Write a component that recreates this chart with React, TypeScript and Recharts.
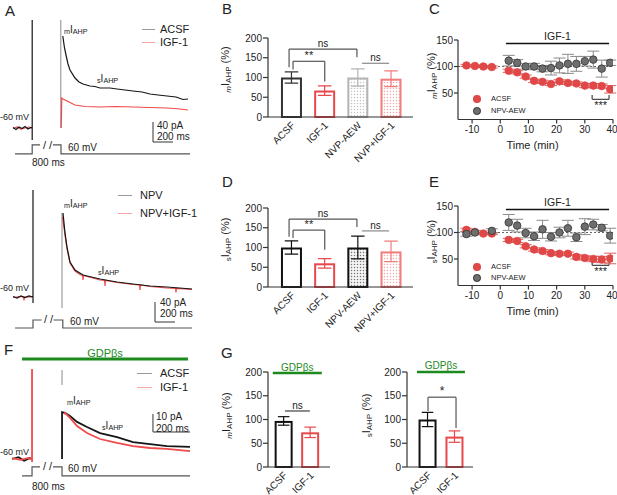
import React from 'react';
import {
  BarChart, Bar, ScatterChart, Scatter, LineChart, Line, XAxis, YAxis,
  ErrorBar, ReferenceLine
} from 'recharts';

const FONT = 'Arial, "Liberation Sans", Helvetica, sans-serif';
const RED = '#e8474c';
const TRACE_RED = '#f04a4a';
const GREEN = '#1d8a1d';

// ---- bar panels (B, D, G) ----
const bCats = ['ACSF', 'IGF-1', 'NVP-AEW', 'NVP+IGF-1'];
const dCats = ['ACSF', 'IGF-1', 'NPV-AEW', 'NPV+IGF-1'];
const gCats = ['ACSF', 'IGF-1'];
const bMean = [100, 67, 100, 97];
const bSem = [14, 12, 22, 20];
const dMean = [100, 60, 100, 90];
const dSem = [17, 12, 29, 26];
const gmMean = [97, 73];
const gmSem = [9, 11];
const gsMean = [100, 64];
const gsSem = [15, 12];

// ---- time course panels (C, E) ----
const tPre = [-12, -9, -6, -3];
const tPost = [3, 6, 9, 12, 15, 18, 21, 24, 27, 30, 33, 36, 39];
const cAcsfMean = [102, 101, 100, 99, 92, 89, 81, 73, 71, 67, 72, 69, 68, 64, 64, 63, 57];
const cAcsfSem = [2, 2, 2, 2, 3, 3, 3, 3, 3, 3, 3, 3, 3, 4, 4, 4, 7];
const cNvpMean = [111, 107, 100, 100, 96, 97, 102, 105, 105, 110, 113, 96, 107];
const cNvpSem = [10, 6, 5, 6, 6, 13, 14, 18, 14, 9, 16, 16, 5];
const eAcsfMean = [105, 101, 98, 98, 86, 84, 74, 68, 65, 61, 60, 60, 54, 52, 50, 49, 51];
const eAcsfSem = [3, 2, 2, 2, 3, 3, 3, 3, 3, 3, 3, 3, 4, 4, 5, 6, 10];
const eNvpTime = [-12, -9, -3, ...tPost];
const eNvpMean = [97, 100, 103, 119, 113, 99, 93, 106, 92, 100, 108, 91, 111, 115, 109, 94];
const eNvpSem = [4, 4, 4, 15, 12, 9, 8, 17, 8, 10, 15, 8, 15, 10, 6, 14];

// ---- current traces (t in ms, i in pA), voltage protocol (v in mV) ----
const acsfA = [
  { t: 130, i: 1 }, { t: 160, i: -3 }, { t: 190, i: 2 }, { t: 220, i: -1 }, { t: 250, i: 3 },
  { t: 280, i: -2 }, { t: 310, i: 1 }, { t: 322, i: 0 }, { t: 322, i: 216 }, { t: 322, i: -24 },
  { t: 330, i: null },
  { t: 628, i: 184 }, { t: 645, i: 160 }, { t: 660, i: 146 }, { t: 680, i: 128 }, { t: 700, i: 116 },
  { t: 750, i: 100 }, { t: 790, i: 92 }, { t: 830, i: 88 }, { t: 900, i: 84 }, { t: 950, i: 83 },
  { t: 1000, i: 80 }, { t: 1100, i: 80 }, { t: 1170, i: 78 }, { t: 1250, i: 76 }, { t: 1330, i: 74 },
  { t: 1420, i: 72 }, { t: 1500, i: 68 }, { t: 1580, i: 66 }, { t: 1670, i: 64 }, { t: 1760, i: 62 },
  { t: 1830, i: 57 }, { t: 1880, i: 58 },
];
const igfA = [
  { t: 130, i: -1 }, { t: 170, i: 2 }, { t: 210, i: -2 }, { t: 250, i: 0 }, { t: 290, i: 2 },
  { t: 320, i: 0 }, { t: 330, i: null },
  { t: 612, i: 0 }, { t: 618, i: 60 }, { t: 630, i: 58 }, { t: 670, i: 54 }, { t: 750, i: 46 },
  { t: 850, i: 43 }, { t: 1000, i: 42 }, { t: 1150, i: 43 }, { t: 1330, i: 42 }, { t: 1500, i: 41 },
  { t: 1670, i: 40 }, { t: 1800, i: 38 }, { t: 1880, i: 36 },
];
const artA = [{ t: 608, i: 216 }, { t: 608, i: 0 }];
const protoA = [
  { t: 150, v: -60 }, { t: 322, v: -60 }, { t: 322, v: 0 }, { t: 400, v: 0 }, { t: 405, v: null },
  { t: 530, v: 0 }, { t: 610, v: 0 }, { t: 610, v: -60 }, { t: 1900, v: -60 },
];
const scaleA = [{ t: 1530, i: 12 }, { t: 1530, i: -28 }, { t: 1730, i: -28 }];

const npvA2 = [
  { t: 130, i: 1 }, { t: 170, i: -2 }, { t: 210, i: 2 }, { t: 250, i: -1 }, { t: 290, i: 2 },
  { t: 330, i: 0 }, { t: 330, i: 214 }, { t: 330, i: -12 }, { t: 335, i: null },
  { t: 630, i: 168 }, { t: 650, i: 128 }, { t: 670, i: 100 }, { t: 700, i: 70 }, { t: 750, i: 54 },
  { t: 830, i: 44 }, { t: 1000, i: 36 }, { t: 1170, i: 30 }, { t: 1330, i: 26 }, { t: 1500, i: 22 },
  { t: 1670, i: 20 }, { t: 1920, i: 16 },
];
const npvIgfA2 = [
  { t: 130, i: -1 }, { t: 200, i: 1 }, { t: 236, i: 0 }, { t: 240, i: -7 }, { t: 244, i: 0 },
  { t: 320, i: 0 }, { t: 335, i: null },
  { t: 625, i: 160 }, { t: 650, i: 124 }, { t: 670, i: 96 }, { t: 700, i: 68 }, { t: 750, i: 52 },
  { t: 800, i: 45 }, { t: 826, i: 43 }, { t: 830, i: 34 }, { t: 834, i: 43 }, { t: 1000, i: 34 },
  { t: 1046, i: 33 }, { t: 1050, i: 22 }, { t: 1054, i: 33 }, { t: 1170, i: 29 }, { t: 1330, i: 25 },
  { t: 1396, i: 24 }, { t: 1400, i: 14 }, { t: 1404, i: 24 }, { t: 1500, i: 21 }, { t: 1670, i: 18 },
  { t: 1756, i: 17 }, { t: 1760, i: 9 }, { t: 1764, i: 17 }, { t: 1920, i: 15 },
];
const artA2 = [{ t: 620, i: 168 }, { t: 620, i: -22 }];
const protoA2 = [
  { t: 150, v: -60 }, { t: 330, v: -60 }, { t: 330, v: 0 }, { t: 415, v: 0 }, { t: 420, v: null },
  { t: 535, v: 0 }, { t: 628, v: 0 }, { t: 628, v: -60 }, { t: 1920, v: -60 },
];
const scaleA2 = [{ t: 1550, i: -10 }, { t: 1550, i: -50 }, { t: 1750, i: -50 }];

const acsfF = [
  { t: 65, i: 0 }, { t: 100, i: 1 }, { t: 130, i: -1 }, { t: 160, i: 0.5 }, { t: 172, i: 0 },
  { t: 180, i: null },
  { t: 335, i: 0 }, { t: 335, i: 26 }, { t: 351, i: 25.6 }, { t: 378, i: 23.9 }, { t: 416, i: 20.6 },
  { t: 470, i: 17.8 }, { t: 540, i: 14.4 }, { t: 632, i: 12.2 }, { t: 718, i: 9.4 }, { t: 810, i: 8.3 },
  { t: 902, i: 7.2 }, { t: 1026, i: 6.7 },
];
const igfF = [
  { t: 65, i: 0.5 }, { t: 110, i: -0.5 }, { t: 150, i: 0.5 }, { t: 173, i: 0 }, { t: 173, i: 50 },
  { t: 173, i: -1.7 }, { t: 180, i: null },
  { t: 345, i: 25 }, { t: 351, i: 25.6 }, { t: 378, i: 22.8 }, { t: 416, i: 18.3 }, { t: 470, i: 14.4 },
  { t: 540, i: 11.1 }, { t: 632, i: 8.9 }, { t: 718, i: 7.2 }, { t: 810, i: 6.1 }, { t: 902, i: 5.6 },
  { t: 1026, i: 4.4 },
];
const artF = [{ t: 335, i: 49.4 }, { t: 335, i: 41.1 }];
const protoF = [
  { t: 119, v: -60 }, { t: 173, v: -60 }, { t: 173, v: 0 }, { t: 216, v: 0 }, { t: 220, v: null },
  { t: 286, v: 0 }, { t: 335, v: 0 }, { t: 335, v: -60 }, { t: 1026, v: -60 },
];
const scaleF = [{ t: 826, i: 25 }, { t: 826, i: 15 }, { t: 1026, i: 15 }];

// significance brackets: x in category units, y in %
const bBrackets = [
  { x1: -0.075, x2: 1.97, y: 172, l1: 126, l2: 151, text: 'ns' },
  { x1: 0.045, x2: 1.0, y: 141, l1: 120, l2: 90, text: '**', size: 11 },
  { x1: 2.12, x2: 2.94, y: 136, text: 'ns', color: '#8a8a8a' },
];
const dBrackets = [
  { x1: -0.075, x2: 1.97, y: 172, l1: 127, l2: 152, text: 'ns' },
  { x1: 0.045, x2: 1.0, y: 144, l1: 124, l2: 94, text: '**', size: 11 },
  { x1: 2.12, x2: 2.94, y: 142, text: 'ns', color: '#8a8a8a' },
];
const gmBrackets = [{ x1: 0.04, x2: 0.98, y: 118, text: 'ns', color: '#8a8a8a', w: 2 }];
const gsBrackets = [{ x1: 0, x2: 1.04, y: 147, l1: 118, l2: 82, text: '*', size: 12 }];

const AX = { stroke: '#333', strokeWidth: 1.2 };
const TICK = { fill: '#222', fontSize: 10, fontFamily: FONT };

const bStyles = [
  { stroke: '#333', fill: '#fff' },
  { stroke: RED, fill: '#fff' },
  { stroke: '#b4b4b4', fill: 'url(#dotGrayB)' },
  { stroke: '#f07c7c', fill: 'url(#dotRedB)' },
];
const dStyles = [
  { stroke: '#111', fill: '#fff' },
  { stroke: RED, fill: '#fff' },
  { stroke: '#111', fill: 'url(#dotDarkD)' },
  { stroke: '#f07c7c', fill: 'url(#dotRedD)' },
];
const gStyles = [
  { stroke: '#111', fill: '#fff' },
  { stroke: RED, fill: '#fff' },
];

const mkBars = (mean: number[], sem: number[]) => mean.map((value, pos) => ({ pos, value, err: sem[pos] }));
const mkPts = (ts: number[], mean: number[], sem: number[]) => ts.map((t, k) => ({ t, v: mean[k], err: sem[k] }));

const ErrBar = (props: any) => {
  const { x, y, width, height, index, payload, styles } = props;
  const st = styles[index];
  const per = height / payload.value;
  const e = payload.err * per;
  const cx = x + width / 2;
  const cap = width * 0.32;
  return (
    <g>
      <rect x={x + 1} y={y + 1} width={width - 2} height={height - 1} fill={st.fill} stroke={st.stroke} strokeWidth={2} />
      <line x1={cx} x2={cx} y1={y - e} y2={y + e} stroke={st.stroke} strokeWidth={1.2} />
      <line x1={cx - cap} x2={cx + cap} y1={y - e} y2={y - e} stroke={st.stroke} strokeWidth={1.2} />
      <line x1={cx - cap} x2={cx + cap} y1={y + e} y2={y + e} stroke={st.stroke} strokeWidth={1.2} />
    </g>
  );
};

const CatTick = (props: any) => {
  const { x, y, payload, cats } = props;
  return (
    <g transform={`translate(${x + 4},${y + 7})`}>
      <text textAnchor="end" transform="rotate(-45)" fontSize={10} fontFamily={FONT} fill="#222">
        {cats[payload.value]}
      </text>
    </g>
  );
};

const AhpLabel = (props: any) => {
  const { viewBox, pre, italic, dx = 0, dyc = 0 } = props;
  const size = 11;
  const cx = viewBox.x + dx;
  const cy = viewBox.y + viewBox.height / 2 + dyc;
  return (
    <text x={cx} y={cy} transform={`rotate(-90 ${cx} ${cy})`} textAnchor="middle" fontSize={size} fontFamily={FONT} fill="#222">
      <tspan fontSize={8} fontStyle={italic ? 'italic' : 'normal'} dy={2}>{pre}</tspan>
      <tspan dy={-2}>I</tspan>
      <tspan fontSize={8} dy={2}>AHP</tspan>
      <tspan dy={-2}> (%)</tspan>
    </text>
  );
};

const TimeLabel = (props: any) => {
  const { viewBox } = props;
  return (
    <text x={viewBox.x + viewBox.width / 2 - 3} y={viewBox.y + 29} textAnchor="middle" fontSize={11} fontFamily={FONT} fill="#222">
      Time (min)
    </text>
  );
};

const Circ = (props: any) => (
  <circle cx={props.cx} cy={props.cy} r={3.8} fill={props.fillc} stroke={props.strokec} strokeWidth={0.8} />
);

const brackets = (list: any[], key: string) =>
  list.flatMap((b, k) => {
    const col = b.color ?? '#555';
    const w = b.w ?? 1.2;
    const out = [
      <ReferenceLine
        key={`${key}h${k}`}
        segment={[{ x: b.x1, y: b.y }, { x: b.x2, y: b.y }]}
        stroke={col}
        strokeWidth={w}
        ifOverflow="visible"
        label={{ value: b.text, position: b.below ? 'bottom' : 'top', offset: 2, fontSize: b.size ?? 10, fill: '#222', fontFamily: FONT }}
      />,
    ];
    if (b.l1 != null) out.push(<ReferenceLine key={`${key}a${k}`} segment={[{ x: b.x1, y: b.y }, { x: b.x1, y: b.l1 }]} stroke={col} strokeWidth={w} ifOverflow="visible" />);
    if (b.l2 != null) out.push(<ReferenceLine key={`${key}b${k}`} segment={[{ x: b.x2, y: b.y }, { x: b.x2, y: b.l2 }]} stroke={col} strokeWidth={w} ifOverflow="visible" />);
    return out;
  });

const T = ({ x, y, size = 10, color = '#222', center = false, children }: any) => (
  <div style={{ position: 'absolute', left: x, top: y, fontSize: size, lineHeight: 1, color, whiteSpace: 'nowrap', transform: center ? 'translateX(-50%)' : undefined }}>
    {children}
  </div>
);

const Ahp = ({ pre }: any) => (
  <span>
    <span style={{ fontSize: '0.72em', position: 'relative', top: '0.2em' }}>{pre}</span>I
    <span style={{ fontSize: '0.72em', position: 'relative', top: '0.2em' }}>AHP</span>
  </span>
);

const LegLine = ({ x, y, w, color }: any) => (
  <div style={{ position: 'absolute', left: x, top: y, width: w, height: 1.3, background: color }} />
);

const LegDot = ({ x, y, color, border }: any) => (
  <div style={{ position: 'absolute', left: x - 3.8, top: y - 3.8, width: 7.6, height: 7.6, borderRadius: '50%', background: color, boxSizing: 'border-box', border: border ? `0.8px solid ${border}` : undefined }} />
);

const Pattern = ({ id, dot, bg }: any) => (
  <pattern id={id} width={3} height={3} patternUnits="userSpaceOnUse">
    <rect width={3} height={3} fill={bg} />
    <circle cx={1.5} cy={1.5} r={0.75} fill={dot} />
  </pattern>
);

const BarPanel = ({ data, cats, styles, list, id, pre, italic, domain, barSize, width, height, margin, xh, yw, labelDx, labelDy, children }: any) => (
  <BarChart width={width} height={height} data={data} margin={margin}>
    {children}
    <XAxis dataKey="pos" type="number" domain={domain} ticks={cats.map((_: string, k: number) => k)} allowDataOverflow height={xh} tickLine={false} tickSize={0} axisLine={AX} tick={<CatTick cats={cats} />} interval={0} />
    <YAxis type="number" domain={[0, 200]} ticks={[0, 50, 100, 150, 200]} width={yw} tickSize={5} tickMargin={1} axisLine={AX} tickLine={AX} tick={TICK} label={<AhpLabel pre={pre} italic={italic} dx={labelDx} dyc={labelDy} />} />
    <Bar dataKey="value" barSize={barSize} isAnimationActive={false} shape={<ErrBar styles={styles} />} />
    {brackets(list, id)}
  </BarChart>
);

const TimePanel = ({ acsf, nvp, top }: any) => (
  <ScatterChart width={217} height={170} margin={{ top, right: 4, bottom: 0, left: 28 }}>
    <XAxis dataKey="t" type="number" domain={[-15, 40]} ticks={[-10, 0, 10, 20, 30, 40]} allowDataOverflow height={170 - top - 79.5} tickSize={4} tickMargin={2} axisLine={AX} tickLine={AX} tick={TICK} label={<TimeLabel />} />
    <YAxis dataKey="v" type="number" domain={[0, 150]} ticks={[50, 100, 150]} width={30} tickSize={4} tickMargin={1} axisLine={AX} tickLine={AX} tick={TICK} label={<AhpLabel pre={top === 40 ? 'm' : 's'} italic={top === 40} dx={7} dyc={-4} />} />
    <ReferenceLine y={100} stroke="#666" strokeDasharray="2 2" strokeWidth={1} />
    <ReferenceLine segment={[{ x: 2, y: 143.5 }, { x: 38.6, y: 143.5 }]} stroke="#111" strokeWidth={1.6} ifOverflow="visible" label={{ value: 'IGF-1', position: 'top', offset: 3, fontSize: 10.5, fill: '#222', fontFamily: FONT }} />
    {brackets([{ x1: 32.6, x2: 38.6, y: 38, l1: 46, l2: 46, text: '***', below: true, size: 11, color: '#444' }], `s${top}`)}
    <Scatter data={acsf} isAnimationActive={false} shape={<Circ fillc="#e04848" strokec="#e04848" />}>
      <ErrorBar dataKey="err" direction="y" width={6} stroke="#e06060" strokeWidth={1} />
    </Scatter>
    <Scatter data={nvp} isAnimationActive={false} shape={<Circ fillc="#6e6e6e" strokec="#333" />}>
      <ErrorBar dataKey="err" direction="y" width={6} stroke="#8a8a8a" strokeWidth={1} />
    </Scatter>
  </ScatterChart>
);

const TraceLine = (p: any) => (
  <Line yAxisId={p.yAxisId ?? 'pa'} data={p.data} dataKey={p.dataKey ?? 'i'} type="linear" stroke={p.stroke} strokeWidth={p.strokeWidth} dot={false} activeDot={false} isAnimationActive={false} />
);

const TracePanel = ({ height, tMax, paDomain, mvDomain, proto, scale, art, black, red, redFirst, lw, children }: any) => (
  <LineChart width={200} height={height} margin={{ top: 0, right: 0, bottom: 0, left: 0 }}>
    <XAxis dataKey="t" type="number" domain={[0, tMax]} hide allowDataOverflow />
    <YAxis yAxisId="pa" type="number" domain={paDomain} hide allowDataOverflow />
    <YAxis yAxisId="mv" type="number" domain={mvDomain} hide allowDataOverflow />
    <Line yAxisId="mv" data={proto} dataKey="v" type="linear" stroke="#555" strokeWidth={1.2} dot={false} activeDot={false} isAnimationActive={false} />
    <Line yAxisId="pa" data={scale} dataKey="i" type="linear" stroke="#333" strokeWidth={1} dot={false} activeDot={false} isAnimationActive={false} />
    <Line yAxisId="pa" data={art} dataKey="i" type="linear" stroke="#8a8a8a" strokeWidth={1} dot={false} activeDot={false} isAnimationActive={false} />
    {redFirst && <Line yAxisId="pa" data={red} dataKey="i" type="linear" stroke={TRACE_RED} strokeWidth={lw} dot={false} activeDot={false} isAnimationActive={false} />}
    <Line yAxisId="pa" data={black} dataKey="i" type="linear" stroke="#151515" strokeWidth={lw} dot={false} activeDot={false} isAnimationActive={false} />
    {!redFirst && <Line yAxisId="pa" data={red} dataKey="i" type="linear" stroke={TRACE_RED} strokeWidth={lw} dot={false} activeDot={false} isAnimationActive={false} />}
    {children}
  </LineChart>
);

const abs = (left: number, top: number) => ({ position: 'absolute' as const, left, top });

export default function App() {
  return (
    <div style={{ position: 'fixed', left: 0, top: 0, width: 617, height: 495, background: '#fff', fontFamily: FONT, overflow: 'hidden' }}>
      {/* A */}
      <div style={abs(0, 0)}>
        <TracePanel height={170} tMax={2000} paDomain={[-84, 256]} mvDomain={[-167, 967]} proto={protoA} scale={scaleA} art={artA} black={acsfA} red={igfA} redFirst lw={1.2} />
      </div>
      <div style={abs(0, 170)}>
        <TracePanel height={170} tMax={2000} paDomain={[-86, 254]} mvDomain={[-150, 1125]} proto={protoA2} scale={scaleA2} art={artA2} black={npvA2} red={npvIgfA2} redFirst lw={1.2} />
      </div>
      {/* F */}
      <div style={abs(0, 340)}>
        <TracePanel height={155} tMax={1080} paDomain={[-20, 66.1]} mvDomain={[-187, 847]} proto={protoF} scale={scaleF} art={artF} black={acsfF} red={igfF} redFirst={false} lw={1.8}>
          <ReferenceLine yAxisId="pa" segment={[{ x: 119, y: 55.6 }, { x: 1015, y: 55.6 }]} stroke={GREEN} strokeWidth={3} ifOverflow="visible" label={{ value: 'GDPβs', position: 'top', offset: 2, fontSize: 11, fill: GREEN, fontFamily: FONT }} />
        </TracePanel>
      </div>

      {/* B */}
      <div style={abs(200, 0)}>
        <BarPanel data={mkBars(bMean, bSem)} cats={bCats} styles={bStyles} list={bBrackets} id="b" pre="m" italic domain={[-0.71, 3.66]} barSize={21} width={220} height={170} margin={{ top: 38, right: 7, bottom: 0, left: 28 }} xh={53} yw={40} labelDx={1} labelDy={-8}>
          <defs>
            <Pattern id="dotGrayB" dot="#c4c4c4" bg="#fff" />
            <Pattern id="dotRedB" dot="#f6a8a8" bg="#fff" />
          </defs>
        </BarPanel>
      </div>
      {/* D */}
      <div style={abs(200, 170)}>
        <BarPanel data={mkBars(dMean, dSem)} cats={dCats} styles={dStyles} list={dBrackets} id="d" pre="s" domain={[-0.71, 3.66]} barSize={21} width={220} height={170} margin={{ top: 38, right: 7, bottom: 0, left: 28 }} xh={53} yw={40} labelDx={1} labelDy={-8}>
          <defs>
            <Pattern id="dotDarkD" dot="#777" bg="#f4f4f4" />
            <Pattern id="dotRedD" dot="#f6a8a8" bg="#fff" />
          </defs>
        </BarPanel>
      </div>
      {/* G */}
      <div style={abs(215, 340)}>
        <BarPanel data={mkBars(gmMean, gmSem)} cats={gCats} styles={gStyles} list={gmBrackets} id="gm" pre="m" italic domain={[-0.6, 1.74]} barSize={18} width={125} height={155} margin={{ top: 32, right: 10, bottom: 0, left: 23 }} xh={28} yw={30} labelDx={-8} labelDy={-4}>
          <ReferenceLine segment={[{ x: -0.42, y: 198 }, { x: 1.43, y: 198 }]} stroke={GREEN} strokeWidth={2.5} ifOverflow="visible" label={{ value: 'GDPβs', position: 'top', offset: 2, fontSize: 10, fill: GREEN, fontFamily: FONT }} />
        </BarPanel>
      </div>
      <div style={abs(355, 340)}>
        <BarPanel data={mkBars(gsMean, gsSem)} cats={gCats} styles={gStyles} list={gsBrackets} id="gs" pre="s" domain={[-0.78, 1.67]} barSize={18} width={125} height={155} margin={{ top: 32, right: 7, bottom: 0, left: 22 }} xh={28} yw={30} labelDx={-7} labelDy={-4}>
          <ReferenceLine segment={[{ x: -0.41, y: 200 }, { x: 1.37, y: 200 }]} stroke={GREEN} strokeWidth={2.5} ifOverflow="visible" label={{ value: 'GDPβs', position: 'top', offset: 3, fontSize: 10, fill: GREEN, fontFamily: FONT }} />
        </BarPanel>
      </div>

      {/* C, E */}
      <div style={abs(400, 0)}>
        <TimePanel top={40} acsf={mkPts([...tPre, ...tPost], cAcsfMean, cAcsfSem)} nvp={mkPts(tPost, cNvpMean, cNvpSem)} />
      </div>
      <div style={abs(400, 170)}>
        <TimePanel top={36} acsf={mkPts([...tPre, ...tPost], eAcsfMean, eAcsfSem)} nvp={mkPts(eNvpTime, eNvpMean, eNvpSem)} />
      </div>

      {/* panel letters */}
      <T x={5} y={3} size={15}>A</T>
      <T x={222} y={1} size={15}>B</T>
      <T x={429} y={1} size={15}>C</T>
      <T x={222} y={174} size={15}>D</T>
      <T x={429} y={174} size={15}>E</T>
      <T x={4} y={342} size={15}>F</T>
      <T x={221} y={345} size={15}>G</T>

      {/* A top annotations */}
      <T x={0} y={113} size={9}>-60 mV</T>
      <T x={68} y={143} size={10}>60 mV</T>
      <T x={32} y={158} size={10}>800 ms</T>
      <T x={43} y={140} size={11}>/ /</T>
      <T x={64} y={25} size={10}><Ahp pre="m" /></T>
      <T x={97} y={74} size={10}><Ahp pre="s" /></T>
      <LegLine x={142} y={29} w={13} color="#999" />
      <T x={160} y={24} size={11}>ACSF</T>
      <LegLine x={142} y={42} w={13} color="#f5a5a5" />
      <T x={160} y={37} size={11}>IGF-1</T>
      <T x={157} y={121} size={10}>40 pA</T>
      <T x={157} y={132} size={10}>200 ms</T>

      {/* A bottom annotations */}
      <LegLine x={118} y={195} w={14} color="#999" />
      <T x={140} y={190} size={11}>NPV</T>
      <LegLine x={118} y={213} w={14} color="#f5a5a5" />
      <T x={140} y={208} size={11}>NPV+IGF-1</T>
      <T x={64} y={199} size={10}><Ahp pre="m" /></T>
      <T x={98} y={266} size={10}><Ahp pre="s" /></T>
      <T x={0} y={284} size={9}>-60 mV</T>
      <T x={70} y={317} size={10}>60 mV</T>
      <T x={44} y={314} size={11}>/ /</T>
      <T x={160} y={298} size={10}>40 pA</T>
      <T x={160} y={309} size={10}>200 ms</T>

      {/* F annotations */}
      <LegLine x={137} y={373} w={15} color="#999" />
      <T x={160} y={368} size={11}>ACSF</T>
      <LegLine x={137} y={387} w={15} color="#f5a5a5" />
      <T x={160} y={382} size={11}>IGF-1</T>
      <T x={67} y={396} size={10}><Ahp pre="m" /></T>
      <T x={102} y={421} size={10}><Ahp pre="s" /></T>
      <T x={156} y={412} size={10}>10 pA</T>
      <T x={156} y={424} size={10}>200 ms</T>
      <T x={0} y={448} size={9}>-60 mV</T>
      <T x={68} y={464} size={10}>60 mV</T>
      <T x={32} y={482} size={10}>800 ms</T>
      <T x={43} y={461} size={11}>/ /</T>

      {/* C / E legends */}
      <LegDot x={477} y={99} color="#e04848" />
      <T x={491} y={95} size={7.5}>ACSF</T>
      <LegDot x={477} y={111} color="#6e6e6e" border="#333" />
      <T x={491} y={107} size={7.5}>NPV-AEW</T>
      <LegDot x={477} y={267} color="#e04848" />
      <T x={491} y={263} size={7.5}>ACSF</T>
      <LegDot x={477} y={278} color="#6e6e6e" border="#333" />
      <T x={491} y={274} size={7.5}>NPV-AEW</T>
    </div>
  );
}
